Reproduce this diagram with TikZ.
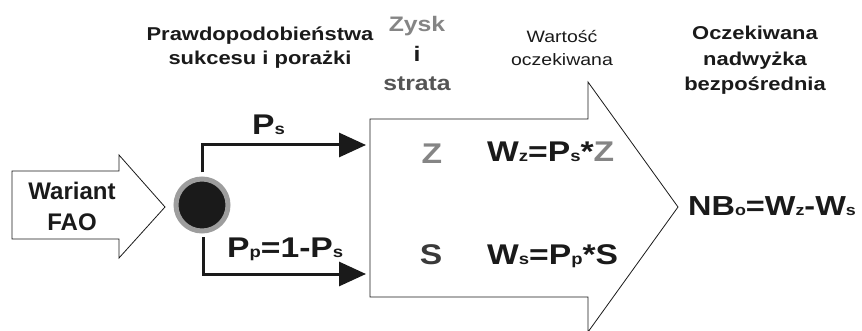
\documentclass[tikz,border=0pt]{standalone}
\usepackage{fontspec}
\usepackage{graphicx}
\setmainfont{Liberation Sans}[FakeStretch=1.18]
\newfontfamily\plainf{Liberation Sans}
\usetikzlibrary{arrows.meta}
\definecolor{ink}{HTML}{1A1A1A}
\definecolor{lgray}{HTML}{858585}
\definecolor{mgray}{HTML}{555555}
\definecolor{dgray}{HTML}{3A3A3A}
\newcommand\lo[1]{\scalebox{0.55}{#1}}
\newcommand\fs[1]{\fontsize{#1}{#1}\selectfont}
\tikzset{
  outline/.style={draw=ink, line width=0.8pt, fill=white, line join=miter},
  head/.style={font=\bfseries\fs{18.6}, align=center, text=ink, inner sep=0pt, anchor=base},
  big/.style={font=\bfseries\fs{28.5}, text=ink, inner sep=0pt, anchor=base west},
  conn/.style={draw=ink, line width=3pt, -{Triangle[length=27pt,width=24pt]}},
}
\begin{document}
\begin{tikzpicture}
\useasboundingbox (0,0) rectangle (862pt,-331pt);
% left arrow
\draw[outline] (12pt,-171pt) -- (119pt,-171pt) -- (119pt,-155pt) -- (165pt,-207pt) -- (119pt,-258pt) -- (119pt,-239pt) -- (12pt,-239pt) -- cycle;
\node[font=\plainf\bfseries\fs{24}, text=ink, inner sep=0pt, anchor=base] (w1) at (72pt,-200pt) {Wariant};
\node[font=\plainf\bfseries\fs{24}, text=ink, inner sep=0pt, anchor=base] (w2) at (72pt,-231pt) {FAO};
% big arrow
\draw[outline] (370pt,-119pt) -- (588pt,-119pt) -- (588pt,-82pt) -- (678pt,-207pt) -- (588pt,-332pt) -- (588pt,-297pt) -- (370pt,-297pt) -- cycle;
% decision node
\node[circle, fill=ink, draw=lgray!80, line width=5pt, minimum size=52pt, inner sep=0pt] (c) at (202pt,-205pt) {};
\coordinate (zin) at (366pt,-145pt);
\coordinate (sin) at (366pt,-274pt);
\draw[conn] ([yshift=4pt]c.north) |- (zin);
\draw[conn] ([xshift=1pt,yshift=-4pt]c.south) |- (sin);
% headings
\node[head] (h1) at (260pt,-41pt) {Prawdopodobieństwa};
\node[head] (h1b) at (260pt,-65pt) {sukcesu i porażki};
\node[head, font=\bfseries\fs{21}, text=lgray] (h2) at (417pt,-32pt) {Zysk};
\node[head, font=\bfseries\fs{21}] (h2b) at (417pt,-62pt) {i};
\node[head, font=\bfseries\fs{21}, text=mgray] (h2c) at (417pt,-91pt) {strata};
\node[head, font=\fs{16.5}] (h3) at (562pt,-43pt) {Wartość};
\node[head, font=\fs{16.5}] (h3b) at (562pt,-66pt) {oczekiwana};
\node[head] (h4) at (755pt,-40pt) {Oczekiwana};
\node[head] (h4b) at (755pt,-66pt) {nadwyżka};
\node[head] (h4c) at (755pt,-91pt) {bezpośrednia};
% labels
\node[big] (ps) at (252pt,-135pt) {P\lo{s}};
\node[big] (pp) at (227pt,-257pt) {P\lo{p}=1-P\lo{s}};
\node[big, anchor=base, text=lgray] (z) at (432pt,-164pt) {Z};
\node[big, anchor=base, text=dgray] (s) at (431pt,-265pt) {S};
\node[big] (wz) at (487pt,-162pt) {W\lo{z}=P\lo{s}*\textcolor{lgray}{Z}};
\node[big] (ws) at (487pt,-264pt) {W\lo{s}=P\lo{p}*S};
\node[big, font=\bfseries\fs{27.5}] (nb) at (688pt,-216pt) {NB\lo{o}=W\lo{z}-W\lo{s}};
\end{tikzpicture}
\end{document}
